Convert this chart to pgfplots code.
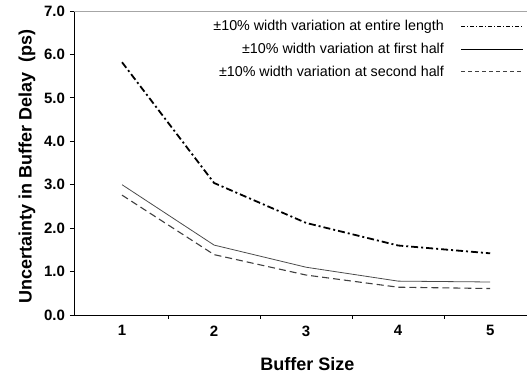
\documentclass[border=0pt]{standalone}
\usepackage{pgfplots}
\pgfplotsset{compat=1.18}
\usepackage{fontspec}
\setmainfont{Liberation Sans}
\begin{document}
\begin{tikzpicture}
\begin{axis}[
  name=ax,
  at={(0,0)}, anchor=south west,
  scale only axis,
  width=453pt, height=304pt,
  xmin=0.478, xmax=5.40,
  ymin=0, ymax=7,
  axis x line*=bottom, axis y line*=left,
  axis line style={black, line width=0.9pt},
  xtick={1,2,3,4,5},
  xticklabels={\textbf{1},\textbf{2},\textbf{3},\textbf{4},\textbf{5}},
  major x tick style={draw=none},
  minor xtick={1.5,2.5,3.5,4.5},
  minor x tick style={black, line width=0.8pt},
  minor tick length=3.5pt,
  ytick={0,1,2,3,4,5,6,7},
  yticklabels={\textbf{0.0},\textbf{1.0},\textbf{2.0},\textbf{3.0},\textbf{4.0},\textbf{5.0},\textbf{6.0},\textbf{7.0}},
  y tick style={black, line width=0.8pt},
  major tick length=4pt,
  tick align=outside,
  tick label style={font=\fontsize{15}{17}\selectfont},
  xticklabel style={yshift=-3pt},
  yticklabel style={xshift=-1.5pt},
  xlabel={\textbf{Buffer Size}},
  xlabel style={font=\fontsize{18}{20}\selectfont, at={(rel axis cs:0.515,0)}, anchor=north, yshift=-39pt},
  ylabel={\textbf{Uncertainty in Buffer Delay\ \ (ps)}},
  ylabel style={font=\fontsize{18}{20}\selectfont, at={(rel axis cs:0,0.487)}, anchor=south, yshift=35pt},
  legend plot pos=right,
  legend cell align=right,
  legend style={draw=none, fill=none, at={(rel axis cs:1,1)}, anchor=north east, xshift=-2pt, yshift=-6pt,
    font=\fontsize{14.3}{16}\selectfont, row sep=7pt, inner sep=1pt},
  legend image code/.code={\draw[#1] (0pt,0pt) -- (62pt,0pt);},
  clip=false,
]
\draw[gray!70, line width=1pt] (rel axis cs:0,1) -- (rel axis cs:1,1);
\addplot[black, line width=1.8pt, dash pattern=on 7pt off 3pt on 2pt off 3pt,
  legend image post style={line width=0.8pt, dash pattern=on 4pt off 2pt on 1pt off 2pt}] coordinates {(1,5.82) (2,3.04) (3,2.12) (4,1.60) (5,1.42)};
\addlegendentry{±10\% width variation at entire length\kern15pt}
\addplot[black!70, line width=0.8pt,
  legend image post style={black, line width=0.9pt}] coordinates {(1,3.0) (2,1.61) (3,1.10) (4,0.78) (5,0.76)};
\addlegendentry{±10\% width variation at first half\kern15pt}
\addplot[black!75, line width=1.1pt, dash pattern=on 7pt off 4pt,
  legend image post style={line width=0.8pt, dash pattern=on 4pt off 3pt}] coordinates {(1,2.76) (2,1.39) (3,0.92) (4,0.64) (5,0.61)};
\addlegendentry{±10\% width variation at second half\kern15pt}
\end{axis}
\pgfresetboundingbox
\useasboundingbox (-74pt,-60pt) rectangle (453pt,315pt);
\end{tikzpicture}
\end{document}
